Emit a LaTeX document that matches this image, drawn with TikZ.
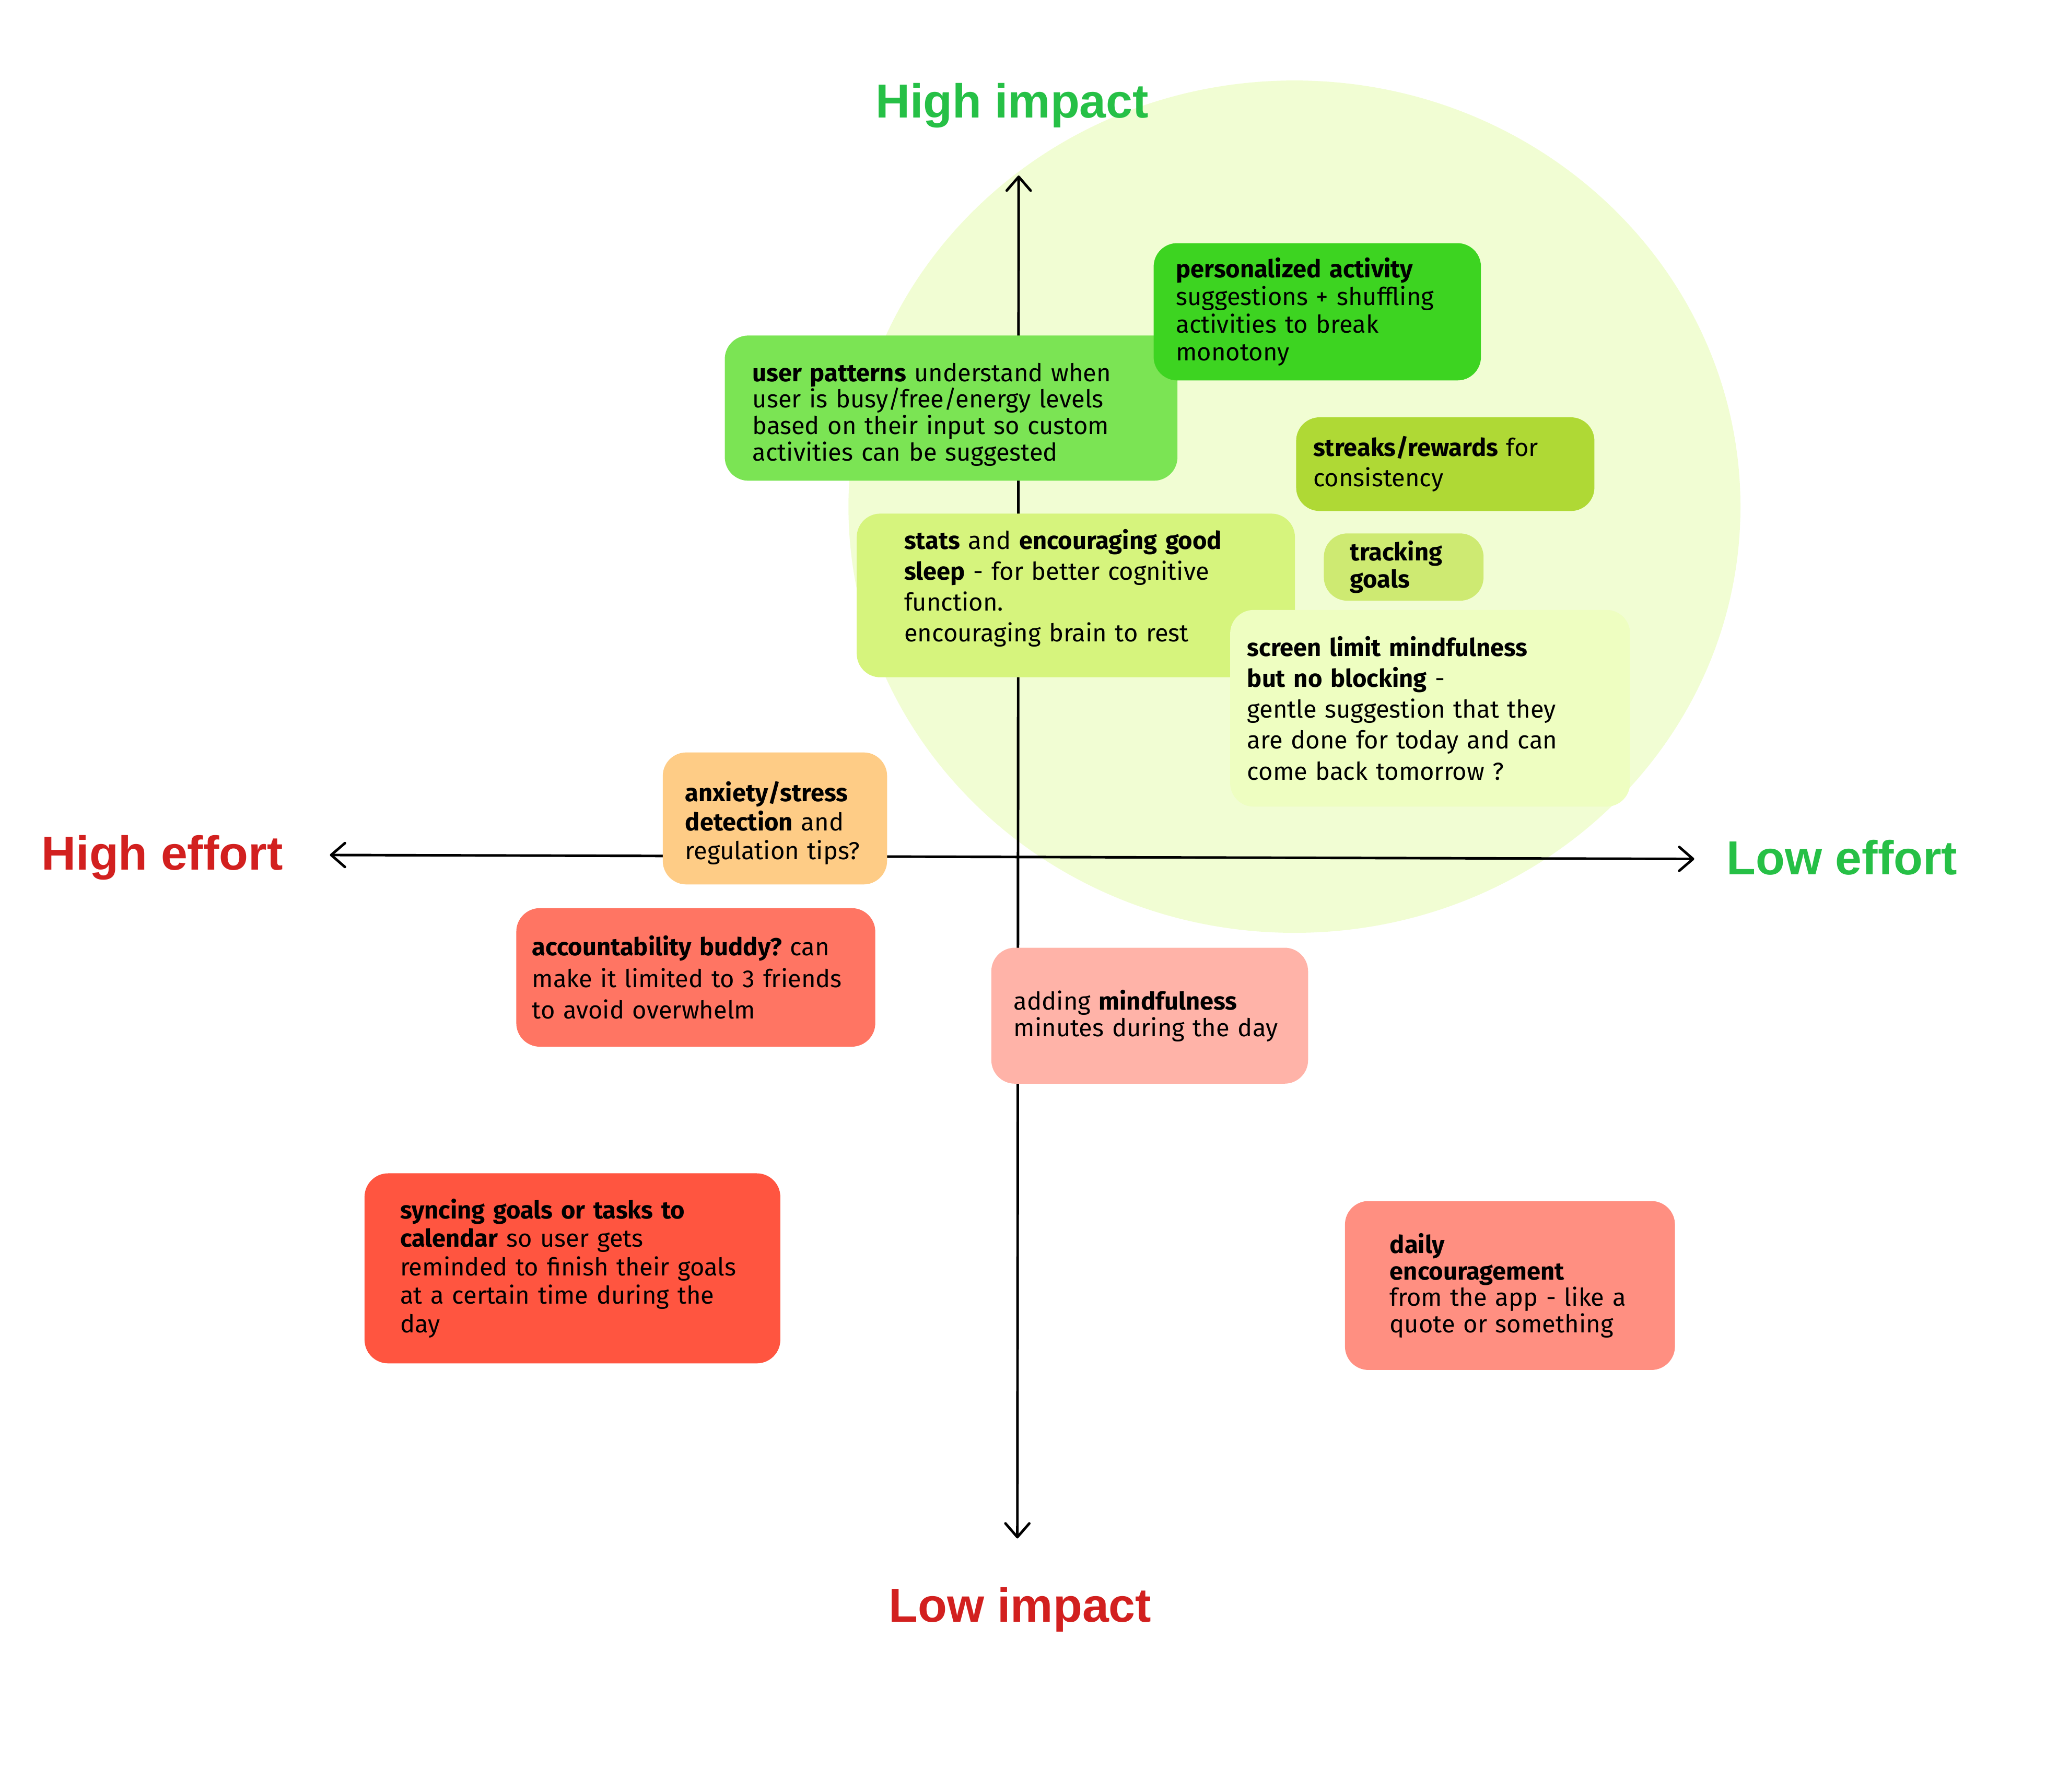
\documentclass[tikz,border=0pt]{standalone}
\usepackage{fontspec}
\setmainfont{Fira Sans}
\newfontfamily\headfont{Liberation Sans}
\usetikzlibrary{arrows.meta}
\frenchspacing

\definecolor{zonefill}{HTML}{F1FDD3}
\definecolor{persgreen}{HTML}{3DD421}
\definecolor{pattgreen}{HTML}{7BE454}
\definecolor{streakgreen}{HTML}{AFD935}
\definecolor{statsgreen}{HTML}{D6F47D}
\definecolor{trackgreen}{HTML}{CEEA72}
\definecolor{screengreen}{HTML}{EEFEC1}
\definecolor{anxorange}{HTML}{FECC86}
\definecolor{buddyred}{HTML}{FF7563}
\definecolor{mindpink}{HTML}{FFB3A8}
\definecolor{syncred}{HTML}{FF5540}
\definecolor{dailyred}{HTML}{FF8F81}
\definecolor{titlegreen}{HTML}{26C046}
\definecolor{titlered}{HTML}{D2201F}

\begin{document}
\begin{tikzpicture}[
    x=0.02526cm, y=-0.02526cm,
    box/.style={rounded corners=0.45cm, anchor=north west, align=left,
                inner ysep=0pt, text=black},
    lead/.style={font=\fontsize{13.4pt}{#1}\selectfont},
    title/.style={font=\headfont\bfseries\fontsize{26pt}{30pt}\selectfont},
    axis/.style={{Straight Barb[length=7.5pt, width=13pt, round]}-{Straight Barb[length=7.5pt, width=13pt, round]},
                 line width=1.4pt}
]
\useasboundingbox (0,0) rectangle (1568,1358);

% Zone
\fill[zonefill] (981,384) ellipse [x radius=338, y radius=323];

% Axes
\coordinate (imptop) at (772,133);
\coordinate (impbot) at (771,1166);
\coordinate (effleft) at (250,648);
\coordinate (effright) at (1284,651);
\draw[axis] (impbot) -- (imptop);
\draw[axis] (effleft) -- (effright);

% Ideas
\node[box, fill=pattgreen, lead=14.4pt, text width=7.603cm, inner xsep=0.530cm, minimum height=2.779cm] (patterns) at (549,254)
  {\rule{0pt}{17pt}\textbf{user patterns} understand when\\ user is busy/free/energy levels\\ based on their input so custom\\ activities can be suggested};
\node[box, fill=persgreen, lead=15pt, text width=5.406cm, inner xsep=0.429cm, minimum height=2.627cm] (persona) at (874,184)
  {\textbf{personalized activity}\\ suggestions + shuffling\\ activities to break\\ monotony};
\node[box, fill=streakgreen, lead=16.5pt, text width=5.052cm, inner xsep=0.328cm, minimum height=1.793cm] (streaks) at (982,316)
  {\textbf{streaks/rewards} for\\ consistency};
\node[box, fill=statsgreen, lead=16.8pt, text width=6.568cm, inner xsep=0.909cm, minimum height=3.132cm] (stats) at (649,389)
  {\textbf{stats} and \textbf{encouraging good}\\ \textbf{sleep} - for better cognitive\\ function.\\ encouraging brain to rest\\[-6pt]\mbox{}};
\node[box, fill=trackgreen, lead=15pt, text width=2.046cm, inner xsep=0.505cm, minimum height=1.288cm] (tracking) at (1003,404)
  {\textbf{tracking}\\ \textbf{goals}};
\node[box, fill=screengreen, lead=16.8pt, text width=6.997cm, inner xsep=0.328cm, minimum height=3.764cm] (screen) at (932,462)
  {\textbf{screen limit mindfulness}\\ \textbf{but no blocking} -\\ gentle suggestion that they\\ are done for today and can\\ come back tomorrow ?};
\node[box, fill=anxorange, lead=15.8pt, text width=3.435cm, inner xsep=0.429cm, minimum height=2.526cm] (anxiety) at (502,570)
  {\rule{0pt}{16pt}\textbf{anxiety/stress}\\ \textbf{detection} and\\ regulation tips?};
\node[box, fill=buddyred, lead=17.2pt, text width=6.264cm, inner xsep=0.303cm, minimum height=2.652cm] (buddy) at (391,688)
  {\textbf{accountability buddy?} can\\ make it limited to 3 friends\\ to avoid overwhelm};
\node[box, fill=mindpink, lead=14.4pt, text width=5.204cm, inner xsep=0.429cm, minimum height=2.602cm] (mindful) at (751,718)
  {adding \textbf{mindfulness}\\ minutes during the day};
\node[box, fill=syncred, lead=15.5pt, text width=6.593cm, inner xsep=0.682cm, minimum height=3.637cm] (syncing) at (276,889)
  {\textbf{syncing goals or tasks to}\\ \textbf{calendar} so user gets\\ reminded to finish their goals\\ at a certain time during the\\ day};
\node[box, fill=dailyred, lead=14.4pt, text width=4.597cm, inner xsep=0.859cm, minimum height=3.233cm] (daily) at (1019,910)
  {\textbf{daily}\\ \textbf{encouragement}\\ from the app - like a\\ quote or something};

% Axis labels
\node[title, text=titlegreen] (hiimp) at (767,80) {High impact};
\node[title, text=titlered] (loimp) at (773,1220) {Low impact};
\node[title, text=titlered] (hieff) at (123,650) {High effort};
\node[title, text=titlegreen] (loeff) at (1396,650) {Low effort};

\end{tikzpicture}
\end{document}
